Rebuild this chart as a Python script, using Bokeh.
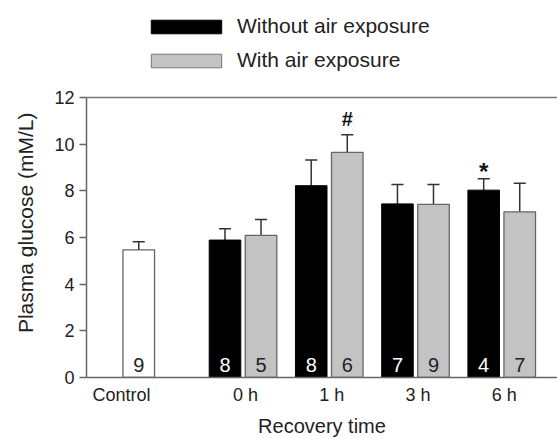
import math
from bokeh.plotting import figure
from bokeh.layouts import column
from bokeh.models import (Range1d, FixedTicker, LinearAxis, Legend, LegendItem, Title)
from bokeh.core.properties import value
from bokeh.embed import file_html
from bokeh.resources import INLINE

# ---------------- data ----------------
times = ["0 h", "1 h", "3 h", "6 h"]
control_mean = 5.47
control_sem = 0.35
control_n = 9
without_mean = [5.89, 8.22, 7.44, 8.03]
without_sem = [0.48, 1.10, 0.83, 0.49]
without_n = [8, 8, 7, 4]
with_mean = [6.09, 9.65, 7.42, 7.10]
with_sem = [0.68, 0.75, 0.85, 1.22]
with_n = [5, 6, 9, 7]
sig_marks = ["#", "*"]          # '#' over With 1 h, '*' over Without 6 h
y_ticks = [0, 2, 4, 6, 8, 10, 12]
x_tick_labels = ["Control"] + times
series_names = ["Without air exposure", "With air exposure"]
y_title = "Plasma glucose (mM/L)"
x_title = "Recovery time"

FONT = "Liberation Sans"
TXT = "#222222"
BLACK_FILL, GRAY_FILL, EDGE = "black", "#c3c3c3", "#666666"

# ---------------- layout constants ----------------
off = 0.209      # half distance between paired bars
bw = 0.366       # bar width
cap = 0.07       # half cap width
ctrl_x = -1.0 - off
x_black = [i - off for i in range(len(times))]
x_gray = [i + off for i in range(len(times))]

W = 557
LEG_H = 80
MAIN_H = 439 - LEG_H

# ---------------- legend strip ----------------
lf = figure(width=W, height=LEG_H, output_backend="svg", toolbar_location=None,
            x_axis_type=None, y_axis_type=None, x_range=Range1d(0, 1),
            y_range=Range1d(0, 1), min_border=0)
lf.outline_line_color = None
lf.grid.visible = False
# proxy renderers (kept outside the visible range) that give the legend its swatches
lb = lf.vbar(x=[5], top=[0.5], width=0.1, fill_color=BLACK_FILL, line_color="black")
lg = lf.vbar(x=[5], top=[0.5], width=0.1, fill_color=GRAY_FILL, line_color="#777777")
legend = Legend(items=[LegendItem(label=series_names[0], renderers=[lb]),
                       LegendItem(label=series_names[1], renderers=[lg])],
                location=(56, 8), orientation="vertical",
                glyph_width=88, glyph_height=17, label_standoff=7, spacing=10,
                padding=0, margin=0, border_line_color=None,
                background_fill_alpha=0, label_text_font=FONT,
                label_text_font_size="21px", label_text_color=TXT)
lf.add_layout(legend)

# ---------------- main plot ----------------
p = figure(width=W, height=MAIN_H, output_backend="svg", toolbar_location=None,
           x_range=Range1d(-1.815, 3.647), y_range=Range1d(0, 12),
           min_border_left=86, min_border_right=0, min_border_top=97 - LEG_H,
           min_border_bottom=57)
p.outline_line_color = None
p.grid.visible = False

p.vbar(x=[ctrl_x], top=[control_mean], width=bw, fill_color="white",
       line_color=EDGE, line_width=1.3)

def err(xs, means, sems, color):
    up = [m + s for m, s in zip(means, sems)]
    p.segment(x0=xs, y0=means, x1=xs, y1=up, line_color=color, line_width=1.5)
    p.segment(x0=[x - cap for x in xs], y0=up, x1=[x + cap for x in xs], y1=up,
              line_color=color, line_width=1.5)

err([ctrl_x], [control_mean], [control_sem], "#333333")
err(x_black, without_mean, without_sem, "#333333")
err(x_gray, with_mean, with_sem, "#333333")

p.vbar(x=x_black, top=without_mean, width=bw, fill_color=BLACK_FILL,
       line_color="black", line_width=1)
p.vbar(x=x_gray, top=with_mean, width=bw, fill_color=GRAY_FILL,
       line_color=EDGE, line_width=1.3)

# n labels
ny = 0.53
common = dict(text_align="center", text_baseline="alphabetic",
              text_font=value(FONT), text_font_size="20px")
p.text(x=[ctrl_x], y=[ny], text=[str(control_n)], text_color=TXT, **common)
p.text(x=x_black, y=[ny] * len(times), text=[str(n) for n in without_n],
       text_color="white", **common)
p.text(x=x_gray, y=[ny] * len(times), text=[str(n) for n in with_n],
       text_color=TXT, **common)

# significance marks
p.text(x=[x_gray[1]], y=[with_mean[1] + with_sem[1] + 0.66], text=[sig_marks[0]],
       text_align="center", text_baseline="alphabetic", text_font=value(FONT),
       text_font_size="20px", text_font_style="bold", text_color="#111111")
p.text(x=[x_black[3]], y=[without_mean[3] + without_sem[3] + 0.3], text=[sig_marks[1]],
       text_align="center", text_baseline="alphabetic", text_font=value(FONT),
       text_font_size="24px", text_font_style="bold", text_color="#111111")

# axes
AX = "#666666"
p.yaxis.ticker = FixedTicker(ticks=y_ticks)
p.yaxis.minor_tick_line_color = None
p.yaxis.major_tick_out = 7
p.yaxis.major_tick_in = 0
p.yaxis.major_label_standoff = 5
p.yaxis.axis_line_color = AX
p.yaxis.axis_line_width = 1.5
p.yaxis.major_tick_line_color = AX
p.yaxis.major_tick_line_width = 1.5
p.yaxis.major_label_text_font = FONT
p.yaxis.major_label_text_font_size = "18px"
p.yaxis.major_label_text_color = TXT

# y title as a side title, shifted toward the top like the reference
p.add_layout(Title(text=y_title, align="right", offset=15, standoff=25,
                   vertical_align="top", text_font=FONT, text_font_size="21px",
                   text_font_style="normal", text_color=TXT), "left")

xt = [ctrl_x - 0.23 + 0.03] + [i + 0.03 for i in range(len(times))]
p.xaxis.ticker = FixedTicker(ticks=xt)
p.xaxis.major_label_overrides = {t: lab for t, lab in zip(xt, x_tick_labels)}
p.xaxis.minor_tick_line_color = None
p.xaxis.major_tick_line_color = None
p.xaxis.major_tick_out = 0
p.xaxis.major_label_standoff = 7
p.xaxis.axis_line_color = AX
p.xaxis.axis_line_width = 1.5
p.xaxis.major_label_text_font = FONT
p.xaxis.major_label_text_font_size = "18px"
p.xaxis.major_label_text_color = TXT
p.xaxis.axis_label = x_title
p.xaxis.axis_label_standoff = 7
p.xaxis.axis_label_text_font = FONT
p.xaxis.axis_label_text_font_size = "20px"
p.xaxis.axis_label_text_font_style = "normal"
p.xaxis.axis_label_text_color = TXT

top_ax = LinearAxis(axis_line_color="#777777", axis_line_width=1.5,
                    major_tick_line_color=None, minor_tick_line_color=None,
                    major_label_text_font_size="0px")
top_ax.ticker = FixedTicker(ticks=[])
p.add_layout(top_ax, "above")

layout = column(lf, p, spacing=0)
open("out.html", "w").write(file_html(layout, INLINE))
